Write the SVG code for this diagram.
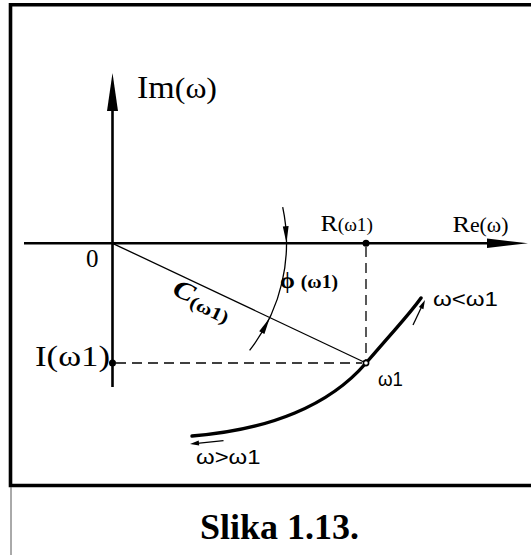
<svg xmlns="http://www.w3.org/2000/svg" width="531" height="555" viewBox="0 0 531 555">
<style>
.ser{font-family:"Liberation Serif","Times New Roman",serif;fill:#000}
.san{font-family:"Liberation Sans",Arial,sans-serif;fill:#000}
.thin{stroke:#000;stroke-width:1.3;fill:none}
.dash{stroke:#000;stroke-width:1.3;fill:none;stroke-dasharray:10 6}
.axis{stroke:#000;stroke-width:2.6;fill:none}
.curve{stroke:#000;stroke-width:3.4;fill:none;stroke-linecap:round}
</style>
<rect width="531" height="555" fill="#fff"/>
<g id="frame">
<path d="M540,4.7 H10.5 V485.5 H540" fill="none" stroke="#000" stroke-width="3.6"/>
<line x1="11" y1="487" x2="11" y2="555" stroke="#555" stroke-width="1"/>
</g>
<g id="axes">
<line class="axis" x1="24" y1="243.3" x2="490" y2="243.3"/>
<polygon points="528,243.3 487,238.6 487,248" fill="#000"/>
<line class="axis" x1="112.5" y1="387" x2="112.5" y2="105"/>
<polygon points="112.5,73 107,111 118,111" fill="#000"/>
</g>
<g id="connectors">
<line class="thin" x1="112.5" y1="243.3" x2="366" y2="363"/>
<line class="dash" x1="366" y1="247" x2="366" y2="360"/>
<line class="dash" x1="116" y1="363" x2="362" y2="363"/>
<path class="thin" d="M282.7,207.1 A174,174 0 0 1 249.6,350.4"/>
<polygon points="286.5,243.3 282.8,226.5 288.6,226.1" fill="#000"/>
<polygon points="269.8,317.7 264.4,334 259.2,331.2" fill="#000"/>
<path class="curve" d="M192,436 C270,430 330,405 366,363 S408,316 421,298"/>
<line class="thin" x1="413" y1="325" x2="422" y2="306"/>
<polygon points="425,300 423.4,309.2 418.9,307" fill="#000"/>
<line class="thin" x1="223.5" y1="440.6" x2="197" y2="443.3"/>
<polygon points="190,444 199.2,445.6 198.7,440.6" fill="#000"/>
</g>
<g id="points">
<circle cx="366" cy="243.3" r="3.5" fill="#000"/>
<circle cx="112.5" cy="363" r="3.5" fill="#000"/>
<circle cx="366" cy="363" r="2.6" fill="#fff" stroke="#000" stroke-width="1.6"/>
</g>
<g id="label-im"><text class="ser" x="137" y="98" font-size="32" textLength="80" lengthAdjust="spacingAndGlyphs">Im<tspan font-size="30">(ω)</tspan></text></g>
<g id="label-zero"><text class="ser" x="86" y="267" font-size="25">0</text></g>
<g id="label-r"><text class="ser" x="320.5" y="231" font-size="24" textLength="52.5" lengthAdjust="spacingAndGlyphs">R<tspan font-size="18">(ω1)</tspan></text></g>
<g id="label-re"><text class="ser" x="452.5" y="232" font-size="24" textLength="56" lengthAdjust="spacingAndGlyphs">R<tspan font-size="20">e(ω)</tspan></text></g>
<g id="label-phi"><text class="ser" x="280" y="288" font-size="23" font-weight="bold" textLength="58" lengthAdjust="spacingAndGlyphs">ϕ <tspan font-size="19">(ω1)</tspan></text></g>
<g id="label-c"><text class="ser" transform="translate(171,294) rotate(25.3)" font-size="26" font-weight="bold" font-style="italic" textLength="62" lengthAdjust="spacingAndGlyphs">C<tspan font-size="18" font-style="normal" dy="4">(ω1)</tspan></text></g>
<g id="label-i"><text class="ser" x="35" y="366" font-size="30" textLength="75" lengthAdjust="spacingAndGlyphs">I(ω1)</text></g>
<g id="label-wlt"><text class="san" x="433" y="306" font-size="20" textLength="65" lengthAdjust="spacingAndGlyphs">ω&lt;ω1</text></g>
<g id="label-w1"><text class="san" x="378" y="386" font-size="20" textLength="25" lengthAdjust="spacingAndGlyphs">ω1</text></g>
<g id="label-wgt"><text class="san" x="196" y="464" font-size="20" textLength="64.5" lengthAdjust="spacingAndGlyphs">ω&gt;ω1</text></g>
<g id="caption"><text class="ser" x="279.5" y="539" font-size="36" font-weight="bold" text-anchor="middle">Slika 1.13.</text></g>
</svg>
